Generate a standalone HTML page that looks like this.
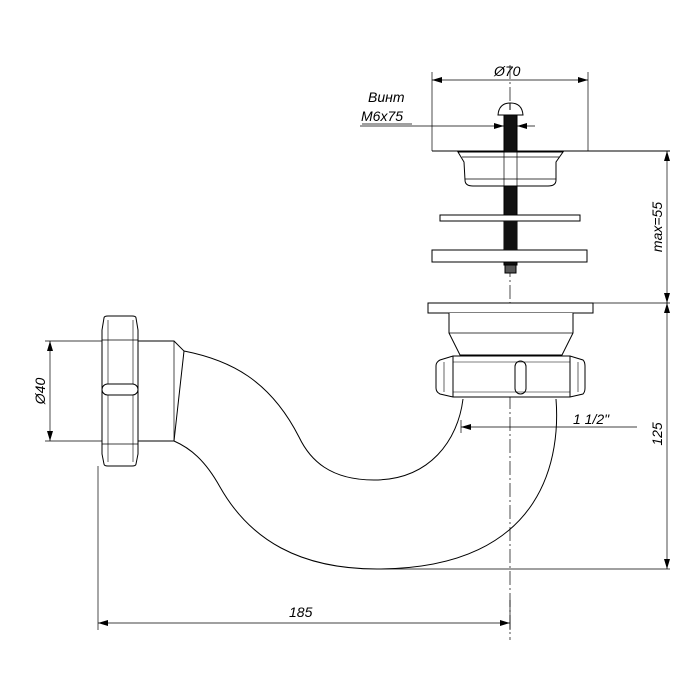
<!DOCTYPE html>
<html><head><meta charset="utf-8"><style>html,body{margin:0;padding:0;background:#fff}svg{display:block}</style></head>
<body>
<svg width="700" height="700" viewBox="0 0 700 700" xmlns="http://www.w3.org/2000/svg" font-family="Liberation Sans, DejaVu Sans, sans-serif" font-style="italic">
<defs>
<marker id="a" viewBox="0 0 10 6" refX="10" refY="3" markerWidth="10" markerHeight="6" orient="auto-start-reverse" markerUnits="userSpaceOnUse"><path d="M0,0 L10,3 L0,6 z" fill="#000"/></marker>
</defs>
<g fill="none" stroke="#000" stroke-width="1">
<line x1="510" y1="65" x2="510" y2="640" stroke-width="0.7" stroke-dasharray="14,3,2,3"/>
<line x1="432" y1="72" x2="432" y2="151" stroke-width="0.7"/>
<line x1="588" y1="72" x2="588" y2="151" stroke-width="0.7"/>
<line x1="432" y1="80" x2="588" y2="80" stroke-width="0.7" marker-start="url(#a)" marker-end="url(#a)"/>
<line x1="360" y1="126" x2="504" y2="126" stroke-width="0.7" marker-end="url(#a)"/>
<line x1="535" y1="126" x2="517" y2="126" stroke-width="0.7" marker-end="url(#a)"/>
<line x1="362" y1="124" x2="412" y2="124" stroke-width="0.7"/>
<line x1="432" y1="151" x2="670" y2="151"/>
<!-- bolt -->
<rect x="504" y="115" width="13" height="150" fill="#111"/>
<rect x="505" y="265" width="11" height="8" fill="#555"/>
<path d="M498,115 Q499,103 510.5,103 Q522,103 523,115 Z" fill="#fff"/>
<line x1="510" y1="103" x2="510" y2="110"/>
<!-- cup over bolt -->
<path d="M458,152 L563,152 L556,162 L556,180 Q556,186 548,186 L473,186 Q465,186 465,180 L464,162 Z" fill="#fff"/>
<line x1="462" y1="157" x2="559" y2="157" stroke-width="0.7"/>
<line x1="465" y1="179" x2="556" y2="179" stroke-width="0.7"/>
<line x1="504" y1="152" x2="504" y2="186" stroke-width="0.7"/>
<line x1="517" y1="152" x2="517" y2="186" stroke-width="0.7"/>
<rect x="440" y="215" width="140" height="6" fill="#fff"/>
<rect x="432" y="250" width="155" height="12" fill="#fff"/>
<rect x="504" y="221" width="13" height="29" fill="#111" stroke="none"/>
<rect x="428" y="303" width="165" height="10" fill="#fff"/>
<line x1="593" y1="303" x2="670" y2="303" stroke-width="0.7"/>
<path d="M449,313 L449,333 L460,355 L562,355 L573,333 L573,313" fill="#fff"/>
<line x1="449" y1="333" x2="573" y2="333" stroke-width="0.7"/>
<path d="M453,356 L570,356 L583,360 Q585,362 585,366 L585,388 Q585,392 583,394 L570,397 L453,397 L440,394 Q436,392 436,388 L436,366 Q436,362 440,360 Z" fill="#fff"/>
<line x1="453" y1="356" x2="453" y2="397"/>
<line x1="570" y1="356" x2="570" y2="397"/>
<line x1="444" y1="362" x2="444" y2="392" stroke-width="0.6"/>
<line x1="578" y1="362" x2="578" y2="392" stroke-width="0.6"/>
<line x1="453" y1="362" x2="570" y2="362" stroke-width="0.6"/>
<line x1="453" y1="392" x2="570" y2="392" stroke-width="0.6"/>
<rect x="515" y="361" width="11" height="33" rx="5.5"/>
<path d="M463,399 C458,440 430,480 374,480 C330,480 310,460 299,437 C270,380 230,360 184,351" />
<path d="M556,399 C560,450 550,569 377,569 C300,569 250,540 220,487 C205,460 190,448 174,441"/>
<path d="M138,341 L174,341 L184,351 L174,441 L138,441" fill="#fff"/>
<line x1="174" y1="341" x2="174" y2="441" stroke-width="0.7"/>
<path d="M104,318 Q104,316 108,316 L132,316 Q136,316 136,318 L138,330 L138,454 L136,464 Q136,466 132,466 L108,466 Q104,466 104,464 L102,454 L102,330 Z" fill="#fff"/>
<line x1="102" y1="340" x2="138" y2="340" stroke-width="0.7"/>
<line x1="102" y1="444" x2="138" y2="444" stroke-width="0.7"/>
<line x1="108" y1="320" x2="108" y2="462" stroke-width="0.6"/>
<line x1="133" y1="320" x2="133" y2="462" stroke-width="0.6"/>
<rect x="102" y="384" width="36" height="11" rx="5.5" fill="#fff"/>
<line x1="45" y1="341" x2="102" y2="341" stroke-width="0.7"/>
<line x1="45" y1="441" x2="102" y2="441" stroke-width="0.7"/>
<line x1="50" y1="341" x2="50" y2="441" stroke-width="0.7" marker-start="url(#a)" marker-end="url(#a)"/>
<line x1="461" y1="420" x2="461" y2="433" stroke-width="0.7"/>
<line x1="637" y1="427" x2="461" y2="427" stroke-width="0.7" marker-end="url(#a)"/>
<line x1="667" y1="151" x2="667" y2="303" stroke-width="0.7" marker-start="url(#a)" marker-end="url(#a)"/>
<line x1="667" y1="303" x2="667" y2="569" stroke-width="0.7" marker-start="url(#a)" marker-end="url(#a)"/>
<line x1="377" y1="569" x2="670" y2="569" stroke-width="0.7"/>
<line x1="98" y1="466" x2="98" y2="630" stroke-width="0.7"/>
<line x1="510" y1="600" x2="510" y2="630" stroke-width="0.7"/>
<line x1="98" y1="623" x2="510" y2="623" stroke-width="0.7" marker-start="url(#a)" marker-end="url(#a)"/>
</g>
<g fill="#000" font-size="14">
<text x="494" y="76">Ø70</text>
<text x="368" y="102">Винт</text>
<text x="361" y="121">M6x75</text>
<text x="573" y="424">1 1/2"</text>
<text x="289" y="617">185</text>
<text transform="translate(45,391) rotate(-90)" text-anchor="middle">Ø40</text>
<text transform="translate(662,227) rotate(-90)" text-anchor="middle">max=55</text>
<text transform="translate(662,434) rotate(-90)" text-anchor="middle">125</text>
</g>
</svg>
</body></html>
